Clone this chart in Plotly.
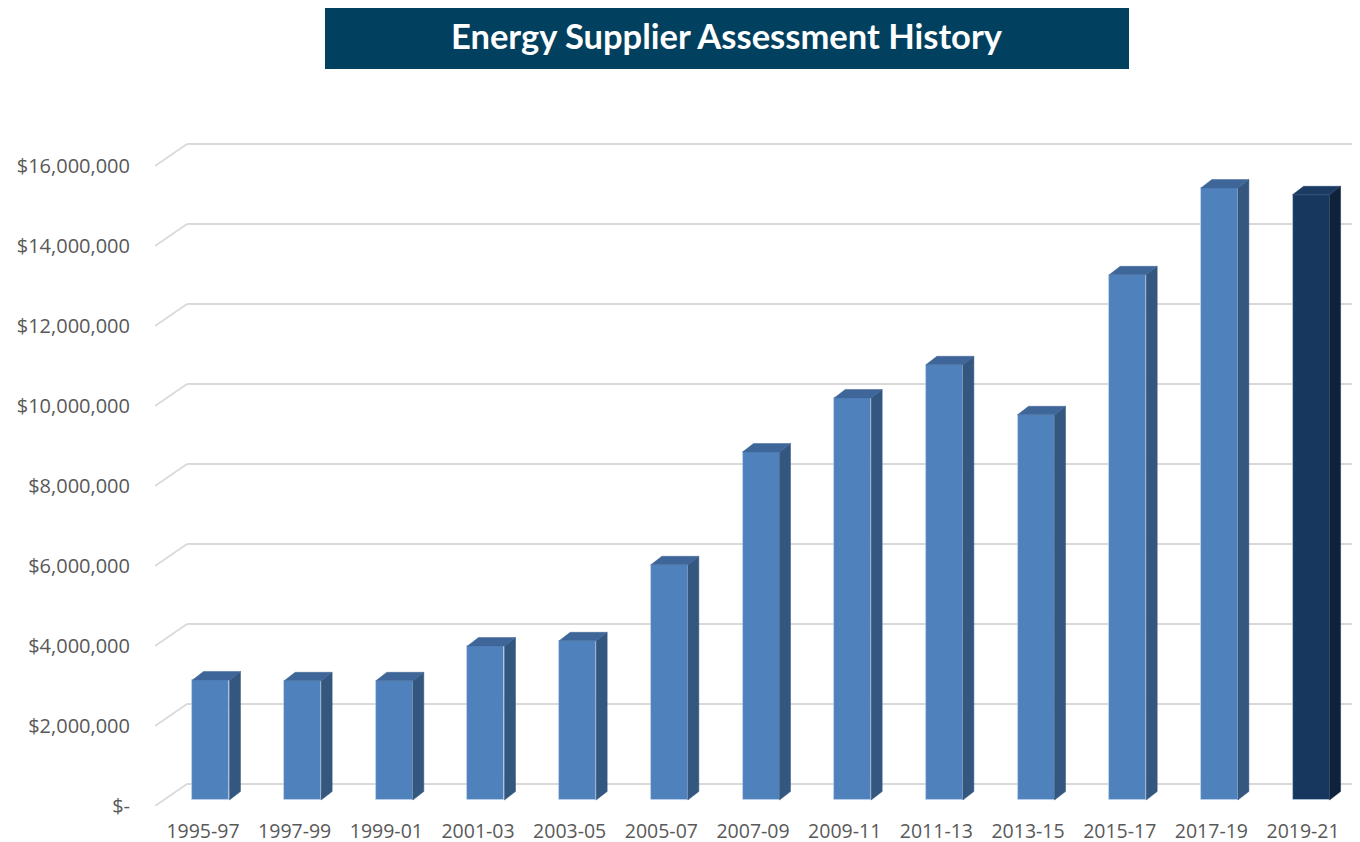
import plotly.graph_objects as go

# ---------------- data ----------------
periods = ["1995-97", "1997-99", "1999-01", "2001-03", "2003-05", "2005-07", "2007-09",
           "2009-11", "2011-13", "2013-15", "2015-17", "2017-19", "2019-21"]
assessments = [3.00e6, 2.98e6, 2.98e6, 3.85e6, 3.98e6, 5.88e6, 8.70e6,
               10.05e6, 10.88e6, 9.63e6, 13.13e6, 15.30e6, 15.13e6]
y_tick_values = [0, 2e6, 4e6, 6e6, 8e6, 10e6, 12e6, 14e6, 16e6]
y_tick_labels = ["$-", "$2,000,000", "$4,000,000", "$6,000,000", "$8,000,000",
                 "$10,000,000", "$12,000,000", "$14,000,000", "$16,000,000"]
title_text = "Energy Supplier Assessment History"

# ---------------- style / projection constants ----------------
PAGE_OFF = 8            # default body margin of the html page
W, H = 1360 - PAGE_OFF, 842 - PAGE_OFF
M_L, M_R, M_T, M_B = 155 - PAGE_OFF, 0, 100 - PAGE_OFF, 36
X_RANGE = [-0.5236, 12.621]
Y_RANGE = [0, 17.65e6]
FLOOR = 0.15e6          # bars sit a little back from the front edge of the floor
BACK = 0.55e6           # back wall offset (value units)
BACK_DX = 0.349         # back wall horizontal shift (category units)
BAR_OFF = 0.087         # front face center offset from label
BAR_W = 0.4036
DEPTH_DX = 0.12
DEPTH_DY = 0.2125e6

FRONT = "#4F81BD"
SIDE = "#34577F"
TOP = "#3E6699"
FRONT_LAST = "#17375E"
SIDE_LAST = "#0F223B"
TOP_LAST = "#1B3B63"
GRID = "#D9D9D9"
TEXT = "#595959"

fig = go.Figure()

# gridlines (perspective: slanted floor segment + back wall line), behind the bars
for v in y_tick_values:
    fig.add_shape(type="line", xref="x", yref="y", layer="below",
                  x0=X_RANGE[0], y0=v, x1=X_RANGE[0] + BACK_DX, y1=v + BACK,
                  line=dict(color=GRID, width=1.8))
    fig.add_shape(type="line", xref="x", yref="y", layer="below",
                  x0=X_RANGE[0] + BACK_DX, y0=v + BACK, x1=X_RANGE[1], y1=v + BACK,
                  line=dict(color=GRID, width=1.8))

n = len(periods)
xs = list(range(n))
front_colors = [FRONT] * (n - 1) + [FRONT_LAST]
side_colors = [SIDE] * (n - 1) + [SIDE_LAST]
top_colors = [TOP] * (n - 1) + [TOP_LAST]

# side and top faces
for i, v in enumerate(assessments):
    xc = xs[i] + BAR_OFF
    xl, xr = xc - BAR_W / 2, xc + BAR_W / 2
    b = FLOOR
    fig.add_trace(go.Scatter(
        x=[xr, xr + DEPTH_DX, xr + DEPTH_DX, xr, xr],
        y=[b, b + DEPTH_DY, b + v + DEPTH_DY, b + v, b],
        mode="lines", fill="toself", fillcolor=side_colors[i],
        line=dict(color=side_colors[i], width=0.5),
        hoverinfo="skip", showlegend=False))
    fig.add_trace(go.Scatter(
        x=[xl, xr, xr + DEPTH_DX, xl + DEPTH_DX, xl],
        y=[b + v, b + v, b + v + DEPTH_DY, b + v + DEPTH_DY, b + v],
        mode="lines", fill="toself", fillcolor=top_colors[i],
        line=dict(color=top_colors[i], width=0.5),
        hoverinfo="skip", showlegend=False))

# front faces
fig.add_trace(go.Bar(
    x=[x + BAR_OFF for x in xs], y=assessments, base=FLOOR, width=BAR_W,
    marker=dict(color=front_colors, line=dict(color="rgba(200,215,235,0.7)", width=0.8)),
    customdata=periods, hovertemplate="%{customdata}: $%{y:,.0f}<extra></extra>",
    showlegend=False))

# title banner (screen pixel positions converted to paper coordinates)
px = lambda p: (p - PAGE_OFF - M_L) / (W - M_L - M_R)
py = lambda p: (H - M_B - (p - PAGE_OFF)) / (H - M_T - M_B)
fig.add_shape(type="rect", xref="paper", yref="paper",
              x0=px(325), x1=px(1129), y0=py(69), y1=py(5),
              fillcolor="#02405F", line=dict(width=0), layer="below")
fig.add_annotation(xref="paper", yref="paper", x=px(727), y=py(35),
                   text="<b>" + title_text + "</b>", showarrow=False,
                   font=dict(family="Lato", size=34.5, color="white"),
                   xanchor="center", yanchor="middle")

fig.update_layout(
    width=W, height=H,
    margin=dict(l=M_L, r=M_R, t=M_T, b=M_B, autoexpand=False),
    plot_bgcolor="white", paper_bgcolor="white",
    showlegend=False, bargap=0,
    font=dict(family="Open Sans", color=TEXT, size=20),
    xaxis=dict(range=X_RANGE, tickvals=xs, ticktext=periods, showgrid=False,
               zeroline=False, showline=False, ticks="", ticklabelstandoff=11,
               automargin=False,
               tickfont=dict(size=19.5, color=TEXT), fixedrange=True),
    yaxis=dict(range=Y_RANGE, tickvals=y_tick_values, ticktext=y_tick_labels,
               showgrid=False, zeroline=False, showline=False, ticks="",
               automargin=False,
               ticklabelstandoff=24, tickfont=dict(size=20, color=TEXT), fixedrange=True),
)

fig.write_html("out.html")
